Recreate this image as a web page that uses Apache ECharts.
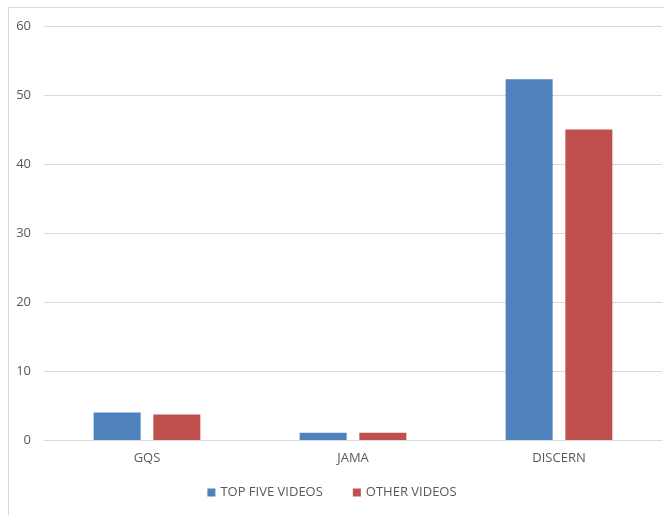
<!DOCTYPE html>
<html>
<head>
<meta charset="utf-8">
<script src="https://cdn.jsdelivr.net/npm/echarts@6/dist/echarts.min.js"></script>
<style>
  html, body { margin: 0; padding: 0; background: #fff; }
  #chart { width: 664px; height: 515px; }
</style>
</head>
<body>
<div id="chart"></div>
<script>
  const categories = ['GQS', 'JAMA', 'DISCERN']
  const topFive = [4.0, 1.05, 52.3]
  const otherVideos = [3.7, 1.05, 45.0]
  const yTicks = { min: 0, max: 60, interval: 10 }

  const chart = echarts.init(document.getElementById('chart'))
  const textColor = '#595959'
  const font = 'Open Sans'

  chart.setOption({
    animation: false,
    graphic: [
      {
        type: 'rect',
        shape: { x: 8.5, y: 7.5, width: 700, height: 600 },
        style: { fill: 'none', stroke: '#d9d9d9', lineWidth: 1 },
        silent: true,
      },
    ],
    grid: { left: 44, right: 2, top: 26, bottom: 75 },
    legend: {
      bottom: 11,
      left: 'center',
      itemWidth: 8,
      itemHeight: 8,
      itemGap: 30,
      icon: 'rect',
      textStyle: { color: textColor, fontSize: 13, fontFamily: font },
      data: ['TOP FIVE VIDEOS', 'OTHER VIDEOS'],
    },
    xAxis: {
      type: 'category',
      data: categories,
      axisLine: { show: true, lineStyle: { color: '#d9d9d9' } },
      axisTick: { show: false },
      axisLabel: { color: textColor, fontSize: 13, fontFamily: font, margin: 12 },
    },
    yAxis: {
      type: 'value',
      min: yTicks.min,
      max: yTicks.max,
      interval: yTicks.interval,
      axisLine: { show: false },
      axisTick: { show: false },
      axisLabel: { color: textColor, fontSize: 13, fontFamily: font, margin: 13 },
      splitLine: { show: true, lineStyle: { color: '#d9d9d9' } },
    },
    series: [
      {
        name: 'TOP FIVE VIDEOS',
        type: 'bar',
        barWidth: 47,
        barGap: '27%',
        itemStyle: { color: '#4f81bd' },
        data: topFive,
      },
      {
        name: 'OTHER VIDEOS',
        type: 'bar',
        barWidth: 47,
        itemStyle: { color: '#c0504d' },
        data: otherVideos,
      },
    ],
  })
</script>
</body>
</html>
